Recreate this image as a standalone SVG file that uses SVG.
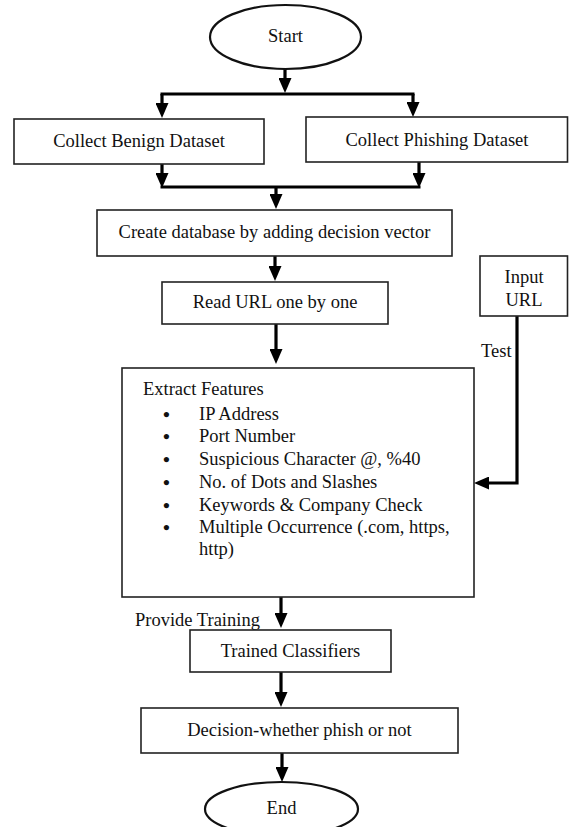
<svg xmlns="http://www.w3.org/2000/svg" width="569" height="827" viewBox="0 0 569 827">
<style>
text{font-family:"Liberation Serif","Times New Roman",serif;font-size:18.5px;fill:#111}
.c{text-anchor:middle}
.b{text-anchor:middle;font-weight:bold;font-size:19.5px}
.box{fill:#fff;stroke:#222;stroke-width:1.6}
.ell{fill:#fff;stroke:#111;stroke-width:2.2}
.con{fill:none;stroke:#000;stroke-width:3.2}
</style>
<defs>
<marker id="ah" viewBox="0 0 15 13" refX="10" refY="6.5" markerWidth="15" markerHeight="13" markerUnits="userSpaceOnUse" orient="auto">
<path d="M0,0 L15,6.5 L0,13 Z" fill="#000"/>
</marker>
</defs>
<rect width="569" height="827" fill="#fff"/>
<g id="connectors">
<line class="con" x1="285" y1="69" x2="285" y2="88" marker-end="url(#ah)"/>
<line class="con" x1="160.5" y1="94" x2="414.5" y2="94"/>
<line class="con" x1="162" y1="94" x2="162" y2="113" marker-end="url(#ah)"/>
<line class="con" x1="413" y1="94" x2="413" y2="112" marker-end="url(#ah)"/>
<line class="con" x1="162" y1="164" x2="162" y2="183" marker-end="url(#ah)"/>
<line class="con" x1="419" y1="162" x2="419" y2="183" marker-end="url(#ah)"/>
<line class="con" x1="160.5" y1="187" x2="420.5" y2="187"/>
<line class="con" x1="276" y1="187" x2="276" y2="204" marker-end="url(#ah)"/>
<line class="con" x1="275" y1="256" x2="275" y2="276" marker-end="url(#ah)"/>
<line class="con" x1="276" y1="324" x2="276" y2="359" marker-end="url(#ah)"/>
<polyline class="con" points="517,316 517,483 479,483" marker-end="url(#ah)"/>
<line class="con" x1="281" y1="597" x2="281" y2="623" marker-end="url(#ah)"/>
<line class="con" x1="281" y1="672" x2="281" y2="702" marker-end="url(#ah)"/>
<line class="con" x1="282" y1="753" x2="282" y2="777" marker-end="url(#ah)"/>
<text x="481" y="357">Test</text>
<text x="135" y="626">Provide Training</text>
</g>
<g id="start">
<ellipse class="ell" cx="285.5" cy="37" rx="75.5" ry="32"/>
<text class="c" x="285.5" y="42">Start</text>
</g>
<g id="benign">
<rect class="box" x="14" y="119" width="250" height="45"/>
<text class="c" x="139" y="147">Collect Benign Dataset</text>
</g>
<g id="phishing">
<rect class="box" x="306" y="117" width="261.5" height="45"/>
<text class="c" x="437" y="146">Collect Phishing Dataset</text>
</g>
<g id="create">
<rect class="box" x="97" y="210" width="355" height="46"/>
<text class="c" x="274.5" y="238">Create database by adding decision vector</text>
</g>
<g id="read">
<rect class="box" x="162" y="282" width="226" height="42"/>
<text class="c" x="275" y="308">Read URL one by one</text>
</g>
<g id="input">
<rect class="box" x="480" y="256" width="87.5" height="60"/>
<text class="c" x="524" y="283">Input</text>
<text class="c" x="524" y="306">URL</text>
</g>
<g id="extract">
<rect class="box" x="122" y="368" width="352" height="229"/>
<text x="143" y="395">Extract Features</text>
<text class="b" x="166.5" y="421">•</text><text x="199" y="420">IP Address</text>
<text class="b" x="166.5" y="443">•</text><text x="199" y="442">Port Number</text>
<text class="b" x="166.5" y="466">•</text><text x="199" y="465">Suspicious Character @, %40</text>
<text class="b" x="166.5" y="489">•</text><text x="199" y="488">No. of Dots and Slashes</text>
<text class="b" x="166.5" y="512">•</text><text x="199" y="511">Keywords &amp; Company Check</text>
<text class="b" x="166.5" y="534">•</text><text x="199" y="533">Multiple Occurrence (.com, https,</text>
<text x="199" y="555">http)</text>
</g>
<g id="trained">
<rect class="box" x="190" y="630" width="201" height="42"/>
<text class="c" x="290.5" y="657">Trained Classifiers</text>
</g>
<g id="decision">
<rect class="box" x="141" y="708" width="317" height="45"/>
<text class="c" x="299.5" y="736">Decision-whether phish or not</text>
</g>
<g id="end">
<ellipse class="ell" cx="281.5" cy="809" rx="76.5" ry="27"/>
<text class="c" x="281.5" y="814">End</text>
</g>
</svg>
